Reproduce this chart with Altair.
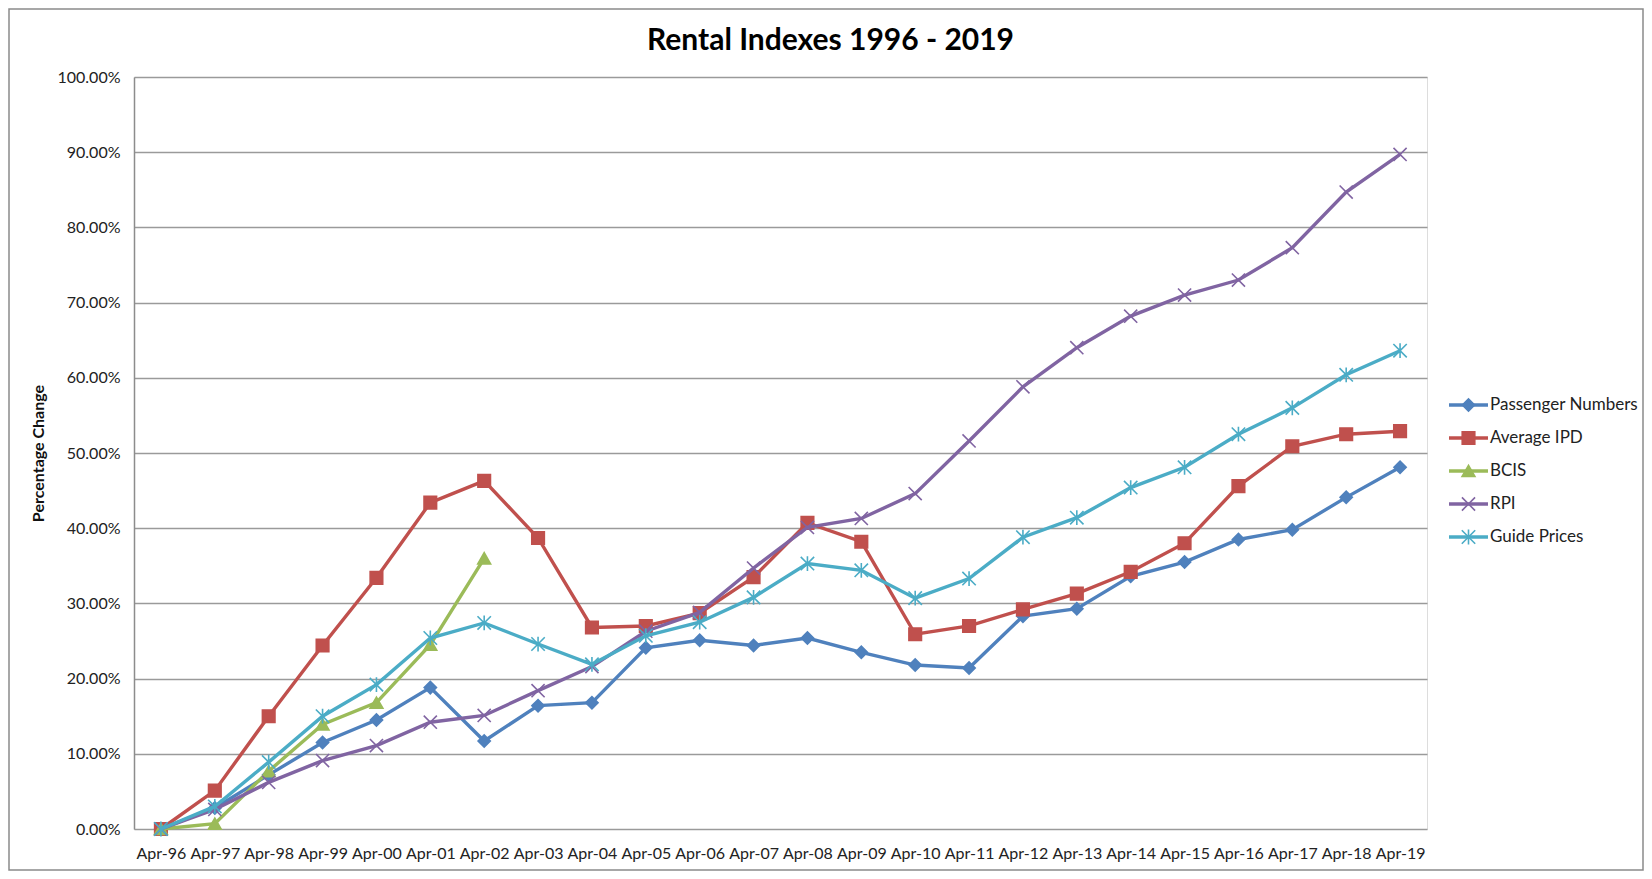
import altair as alt
import pandas as pd

categories = ["Apr-96", "Apr-97", "Apr-98", "Apr-99", "Apr-00", "Apr-01", "Apr-02", "Apr-03",
              "Apr-04", "Apr-05", "Apr-06", "Apr-07", "Apr-08", "Apr-09", "Apr-10", "Apr-11",
              "Apr-12", "Apr-13", "Apr-14", "Apr-15", "Apr-16", "Apr-17", "Apr-18", "Apr-19"]

passenger = [0.0, 2.8, 7.2, 11.5, 14.5, 18.8, 11.7, 16.4, 16.8, 24.1, 25.1, 24.4,
             25.4, 23.5, 21.8, 21.4, 28.3, 29.3, 33.6, 35.5, 38.5, 39.8, 44.1, 48.1]
average_ipd = [0.0, 5.1, 15.0, 24.4, 33.4, 43.4, 46.3, 38.7, 26.8, 27.0, 28.7, 33.5,
               40.7, 38.2, 25.9, 27.0, 29.2, 31.3, 34.2, 38.0, 45.6, 50.9, 52.5, 52.9]
bcis = [0.0, 0.7, 7.7, 13.9, 16.8, 24.5, 36.0]
rpi = [0.0, 2.6, 6.2, 9.1, 11.1, 14.2, 15.1, 18.4, 21.6, 26.3, 28.8, 34.7,
       40.1, 41.3, 44.6, 51.6, 58.8, 64.0, 68.2, 71.0, 73.0, 77.3, 84.7, 89.7]
guide = [0.0, 3.0, 8.9, 15.0, 19.2, 25.4, 27.4, 24.6, 21.9, 25.7, 27.5, 30.8,
         35.3, 34.4, 30.7, 33.3, 38.8, 41.4, 45.4, 48.1, 52.5, 56.0, 60.4, 63.6]

series_names = ["Passenger Numbers", "Average IPD", "BCIS", "RPI", "Guide Prices"]
series_values = [passenger, average_ipd, bcis, rpi, guide]
colors = ["#4F81BD", "#C0504D", "#9BBB59", "#8064A2", "#4BACC6"]
fills = ["#4F81BD", "#C0504D", "#9BBB59", "transparent", "transparent"]
shapes = ["diamond", "square", "triangle-up",
          "M-1,-1L1,1M-1,1L1,-1",
          "M-1,-1L1,1M-1,1L1,-1M0,-1.1L0,1.1"]
sizes = [150, 180, 170, 110, 120]

rows = []
for name, vals in zip(series_names, series_values):
    for cat, v in zip(categories, vals):
        rows.append({"series": name, "period": cat, "value": v / 100.0})
df = pd.DataFrame(rows)
legend_df = pd.DataFrame({"series": series_names})

FONT = "Lato"
W, H = 1293, 752

stroke_scale = alt.Scale(domain=series_names, range=colors)
fill_scale = alt.Scale(domain=series_names, range=fills)
shape_scale = alt.Scale(domain=series_names, range=shapes)
size_scale = alt.Scale(domain=series_names, range=sizes)

x_enc = alt.X("period:N", sort=categories, scale=alt.Scale(domain=categories, paddingOuter=0.5),
              axis=alt.Axis(title=None, labelAngle=0, labelFontSize=16, labelFont=FONT,
                            labelColor="#222222", ticks=False, domain=False, grid=False,
                            labelPadding=16, labelLimit=200))
y_enc = alt.Y("value:Q", scale=alt.Scale(domain=[0, 1], nice=False),
              axis=alt.Axis(title="Percentage  Change", format=".2%", values=[i / 10 for i in range(11)],
                            labelFontSize=16, labelFont=FONT, labelColor="#222222",
                            ticks=False, domain=True, domainColor="#8c8c8c", domainWidth=1.5,
                            grid=True, gridColor="#9a9a9a", gridWidth=1.6, labelPadding=14,
                            titleFont=FONT, titleFontSize=16, titleFontWeight="bold",
                            titleColor="#111111", titleAngle=270, titleX=-96, titleY=H / 2,
                            titleAlign="center", titleBaseline="middle"))

base = alt.Chart(df)
layers = []
border = alt.Chart(legend_df.head(1)).mark_rect(fill="transparent", stroke="#8a8a8a", strokeWidth=1.5).encode(
    x=alt.value(-125), x2=alt.value(1509), y=alt.value(-68), y2=alt.value(793))
layers.append(border)
for name in series_names:
    sub = base.transform_filter(alt.datum.series == name)
    line = sub.mark_line(strokeWidth=3.4).encode(
        x=x_enc, y=y_enc,
        stroke=alt.Stroke("series:N", scale=stroke_scale, legend=None))
    pts = sub.mark_point(filled=True, opacity=1, strokeWidth=1.6).encode(
        x=x_enc, y=y_enc,
        stroke=alt.Stroke("series:N", scale=stroke_scale, legend=None),
        fill=alt.Fill("series:N", scale=fill_scale, legend=None),
        shape=alt.Shape("series:N", scale=shape_scale, legend=None),
        size=alt.Size("series:N", scale=size_scale, legend=None))
    layers += [line, pts]
main = alt.layer(*layers)

ly = alt.Y("series:N", sort=series_names,
           scale=alt.Scale(type="point", domain=series_names, range=[328, 460], padding=0), axis=None)
leg_line = alt.Chart(legend_df).mark_rule(strokeWidth=3.4).encode(
    x=alt.value(1315), x2=alt.value(1354), y=ly,
    stroke=alt.Stroke("series:N", scale=stroke_scale, legend=None))
leg_pts = alt.Chart(legend_df).mark_point(filled=True, opacity=1, strokeWidth=1.6).encode(
    x=alt.value(1334.5), y=ly,
    stroke=alt.Stroke("series:N", scale=stroke_scale, legend=None),
    fill=alt.Fill("series:N", scale=fill_scale, legend=None),
    shape=alt.Shape("series:N", scale=shape_scale, legend=None),
    size=alt.Size("series:N", scale=size_scale, legend=None))
leg_text = alt.Chart(legend_df).mark_text(align="left", baseline="middle", font=FONT,
                                          fontSize=17, color="#222222").encode(
    x=alt.value(1356), y=ly, text="series:N")
legend = alt.layer(leg_line, leg_pts, leg_text)

chart = alt.layer(main, legend).resolve_scale(y="independent").properties(
    width=W, height=H,
    title=alt.TitleParams("Rental Indexes 1996 - 2019", font=FONT, fontSize=30, fontWeight="bold",
                          color="#000000", anchor="middle", frame="group", dx=50, offset=-48),
    autosize=alt.AutoSizeParams(type="none"),
    padding={"left": 126, "top": 69, "right": 217, "bottom": 42},
).configure_view(stroke=None).configure(background="white")

chart.save("out.html", embed_options={"renderer": "svg", "actions": False})
